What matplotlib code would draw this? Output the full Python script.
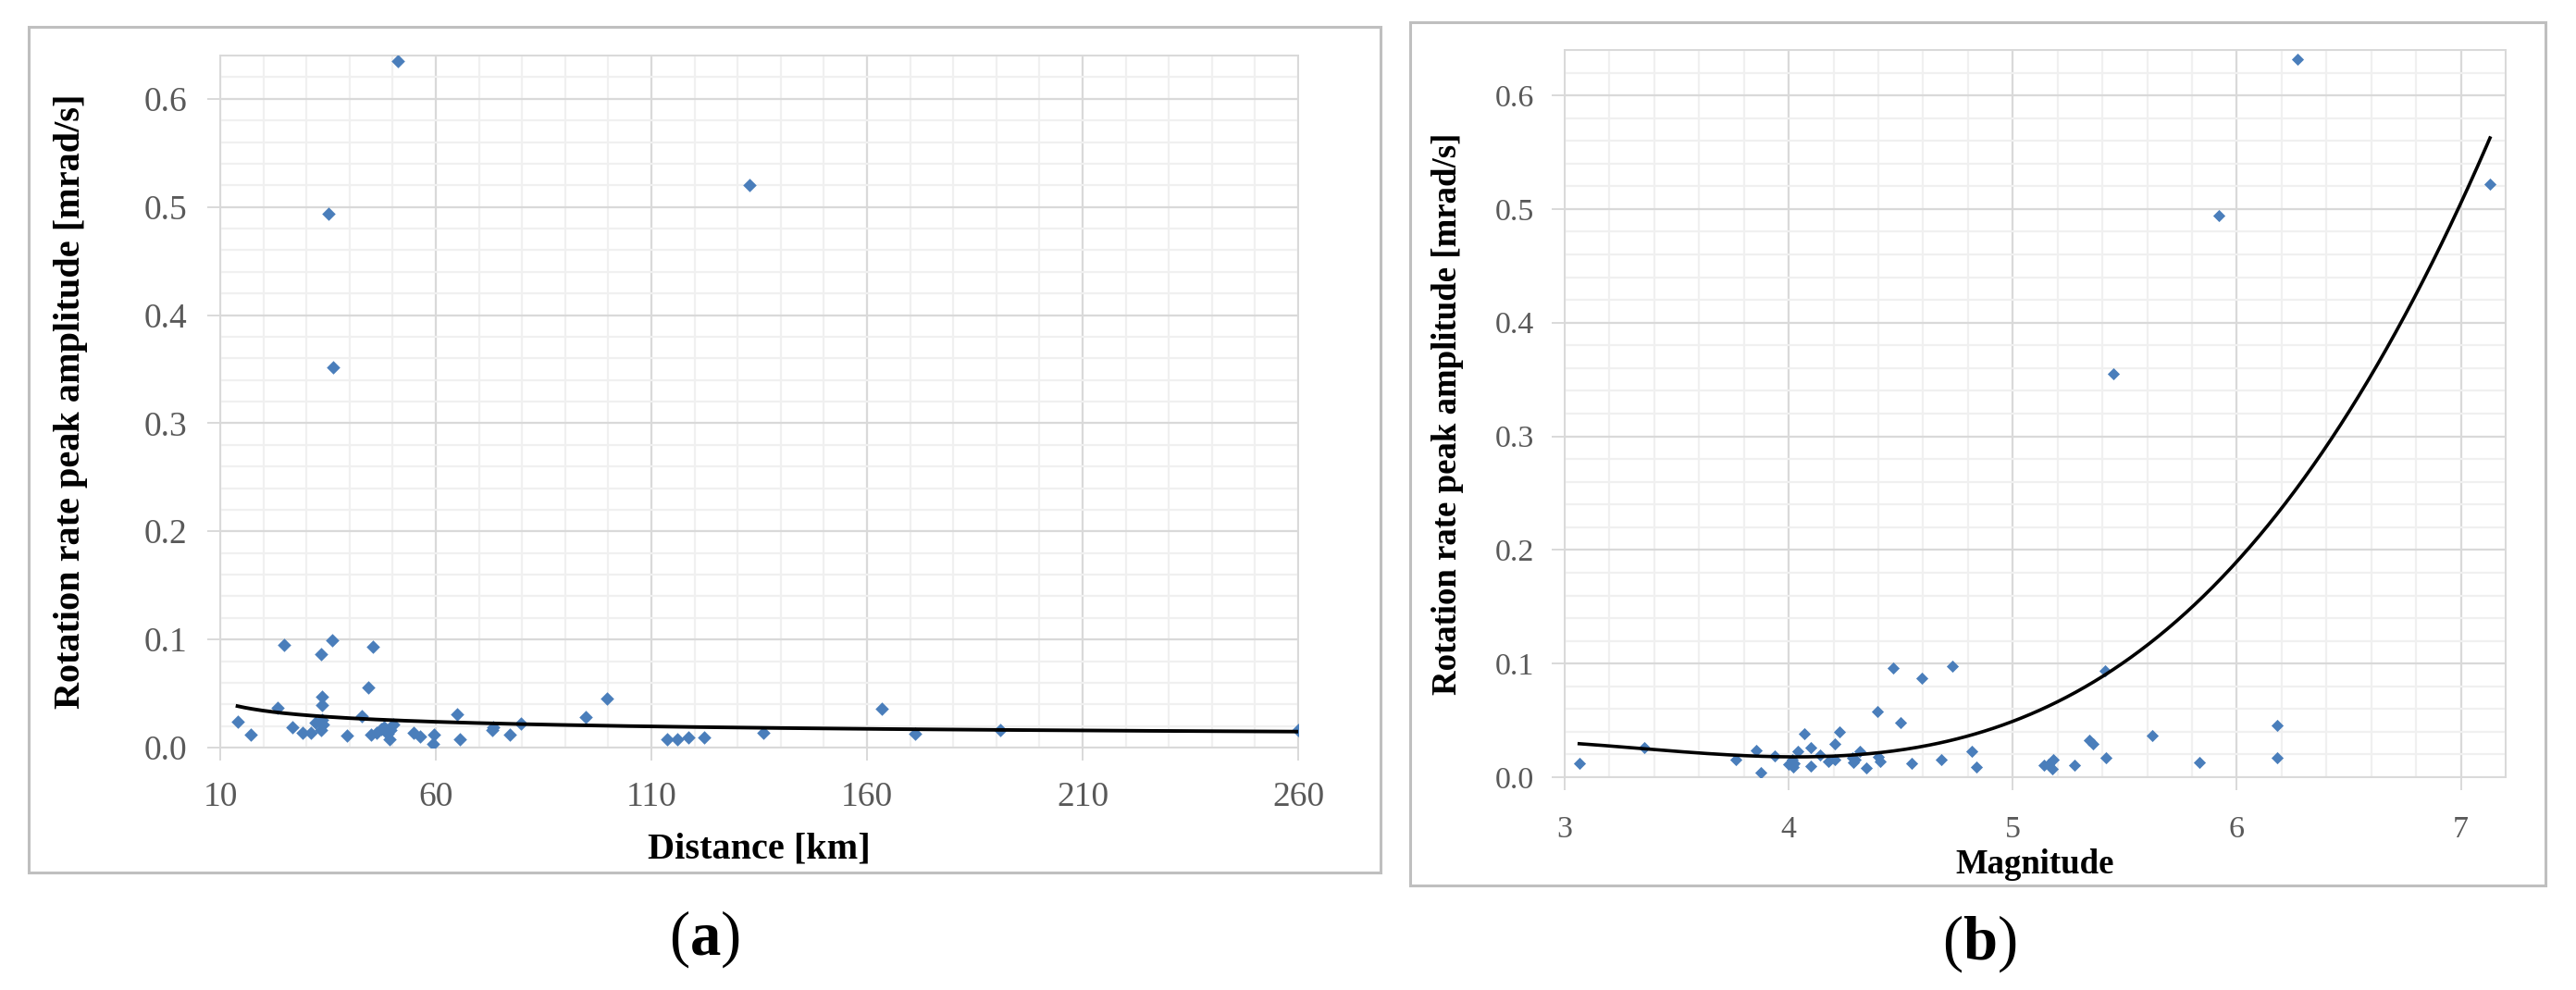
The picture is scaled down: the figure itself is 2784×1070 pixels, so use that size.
import numpy as np
import matplotlib.pyplot as plt
from matplotlib.patches import Rectangle
from matplotlib.ticker import MultipleLocator, FormatStrFormatter

# (a) peak rotation rate vs epicentral distance
dist_km = [14.0, 17.1, 23.3, 24.8, 26.8, 29.1,
           31.1, 32.2, 33.3, 33.9, 33.5,
           33.3, 33.5, 33.5, 36.0,
           39.5, 42.9, 44.4, 45.5,
           45.0, 46.2, 47.3, 48.0, 48.8, 49.2, 49.5, 50.2,
           51.2, 35.0, 36.2,
           54.8, 56.4, 59.6, 59.3, 64.9, 65.6, 73.1, 73.4, 77.1, 79.7,
           94.7, 99.8,
           113.6, 116.0, 118.5, 122.2,
           132.8, 136.0, 163.4, 171.1, 190.8, 260.0]
amp_dist = [0.024, 0.012, 0.037, 0.095, 0.019, 0.014,
            0.014, 0.023, 0.016, 0.021, 0.026,
            0.086, 0.047, 0.039, 0.099,
            0.011, 0.029, 0.056, 0.093,
            0.012, 0.014, 0.017, 0.019, 0.013, 0.008, 0.016, 0.021,
            0.635, 0.494, 0.352,
            0.014, 0.010, 0.012, 0.003, 0.031, 0.008, 0.016, 0.019, 0.012, 0.022,
            0.028, 0.045,
            0.0075, 0.0075, 0.009, 0.009,
            0.520, 0.014, 0.036, 0.0125, 0.016, 0.0166]

# (b) peak rotation rate vs magnitude
magnitude = [3.065, 3.354, 3.766, 3.855, 3.876, 3.938,
             4.00, 4.02, 4.025, 4.015, 4.041, 4.069, 4.097, 4.097,
             4.138, 4.177, 4.204, 4.207, 4.228, 4.283, 4.29, 4.297,
             4.317, 4.348, 4.397, 4.40, 4.407, 4.466, 4.50, 4.549,
             4.596, 4.679, 4.73, 4.818, 4.836,
             5.14, 5.158, 5.175, 5.18, 5.274, 5.34, 5.36, 5.411, 5.414,
             5.623, 5.832, 6.178, 6.178,
             5.45, 5.92, 6.27, 7.13]
amp_mag = [0.0125, 0.026, 0.0153, 0.024, 0.0042, 0.0186,
           0.011, 0.009, 0.0125, 0.0153, 0.023, 0.038, 0.026, 0.010,
           0.0194, 0.0139, 0.0297, 0.0153, 0.0397, 0.0167, 0.013, 0.0153,
           0.023, 0.0078, 0.0575, 0.018, 0.0139, 0.096, 0.048, 0.012,
           0.0875, 0.0153, 0.098, 0.0228, 0.0092,
           0.0103, 0.011, 0.0075, 0.0153, 0.0103, 0.0325, 0.0297, 0.094, 0.0167,
           0.037, 0.0133, 0.0458, 0.0175,
           0.355, 0.494, 0.632, 0.522]

plt.rcParams['font.family'] = ['Liberation Serif', 'DejaVu Serif']
plt.rcParams['mathtext.fontset'] = 'custom'
plt.rcParams['mathtext.rm'] = 'Liberation Serif'
plt.rcParams['mathtext.bf'] = 'Liberation Serif:bold'

W, H = 2784, 1070
fig = plt.figure(figsize=(W / 100, H / 100), dpi=100)

dot_color = '#4a7ebb'
major_grid = '#d9d9d9'
minor_grid = '#f0f0f0'
tick_text = '#595959'


def px_axes(x0, y0, x1, y1):
    # pixel box (top-left origin) -> figure fractions
    return fig.add_axes([x0 / W, 1 - y1 / H, (x1 - x0) / W, (y1 - y0) / H])


def panel_box(x0, y0, x1, y1):
    fig.add_artist(Rectangle((x0 / W, 1 - y1 / H), (x1 - x0) / W, (y1 - y0) / H,
                             transform=fig.transFigure, fill=False,
                             ec='#bfbfbf', lw=2.2))


def style(ax, size, xpad, ypad):
    ax.set_ylim(0, 0.64)
    ax.yaxis.set_major_locator(MultipleLocator(0.1))
    ax.yaxis.set_minor_locator(MultipleLocator(0.02))
    ax.yaxis.set_major_formatter(FormatStrFormatter('%.1f'))
    ax.grid(which='major', color=major_grid, lw=1.6, zorder=0)
    ax.grid(which='minor', color=minor_grid, lw=1.6, zorder=0)
    ax.set_axisbelow(True)
    for s in ax.spines.values():
        s.set_color(major_grid)
        s.set_linewidth(1.4)
    ax.tick_params(which='major', length=10, width=1.4, color=major_grid,
                   labelsize=size, labelcolor=tick_text)
    ax.tick_params(axis='x', which='major', pad=xpad)
    ax.tick_params(axis='y', which='major', pad=ypad)
    ax.tick_params(which='minor', length=0)


# ---- panel (a) ----
panel_box(31, 29, 1492, 943)
ax1 = px_axes(238, 60, 1403, 808)
ax1.scatter(dist_km, amp_dist, marker='D', s=55, color=dot_color, lw=0, zorder=3)
xd = np.array(dist_km)
yd = np.array(amp_dist)
b, a = np.polyfit(np.log(xd), np.log(yd), 1)   # power trendline
xt = np.linspace(xd.min(), xd.max(), 300)
ax1.plot(xt, np.exp(a) * xt ** b, color='black', lw=2.8, zorder=4)
ax1.set_xlim(10, 260)
ax1.xaxis.set_major_locator(MultipleLocator(50, offset=10))
ax1.xaxis.set_minor_locator(MultipleLocator(10))
style(ax1, 27, 16, 16)
ax1.set_xlabel('Distance [km]', fontsize=29, fontweight='bold', va='center')
ax1.xaxis.set_label_coords(0.5, (808 - 918) / 748)
ax1.set_ylabel('Rotation rate peak amplitude [mrad/s]', fontsize=29,
               fontweight='bold', va='center')
ax1.yaxis.set_label_coords((77 - 238) / 1165, 0.5)

# ---- panel (b) ----
panel_box(1524, 24, 2751, 957)
ax2 = px_axes(1691, 54, 2708, 840)
ax2.scatter(magnitude, amp_mag, marker='D', s=45, color=dot_color, lw=0, zorder=3)
xm = np.array(magnitude)
ym = np.array(amp_mag)
coef = np.polyfit(xm, ym, 3)   # polynomial trendline
xt2 = np.linspace(xm.min(), xm.max(), 300)
ax2.plot(xt2, np.polyval(coef, xt2), color='black', lw=2.6, zorder=4)
ax2.set_xlim(3, 7.2)
ax2.xaxis.set_major_locator(MultipleLocator(1))
ax2.xaxis.set_minor_locator(MultipleLocator(0.2))
style(ax2, 24.5, 20, 14)
ax2.set_xlabel('Magnitude', fontsize=26.5, fontweight='bold', va='center')
ax2.xaxis.set_label_coords(0.5, (840 - 934) / 786)
ax2.set_ylabel('Rotation rate peak amplitude [mrad/s]', fontsize=26.5,
               fontweight='bold', va='center')
ax2.yaxis.set_label_coords((1564 - 1691) / 1017, 0.5)

fig.text(761 / W, 1 - 1015 / H, r'$\mathrm{(}\mathbf{a}\mathrm{)}$', fontsize=48,
         ha='center', va='center')
fig.text(2139 / W, 1 - 1020 / H, r'$\mathrm{(}\mathbf{b}\mathrm{)}$', fontsize=48,
         ha='center', va='center')

fig.savefig('out.png', dpi=100)
